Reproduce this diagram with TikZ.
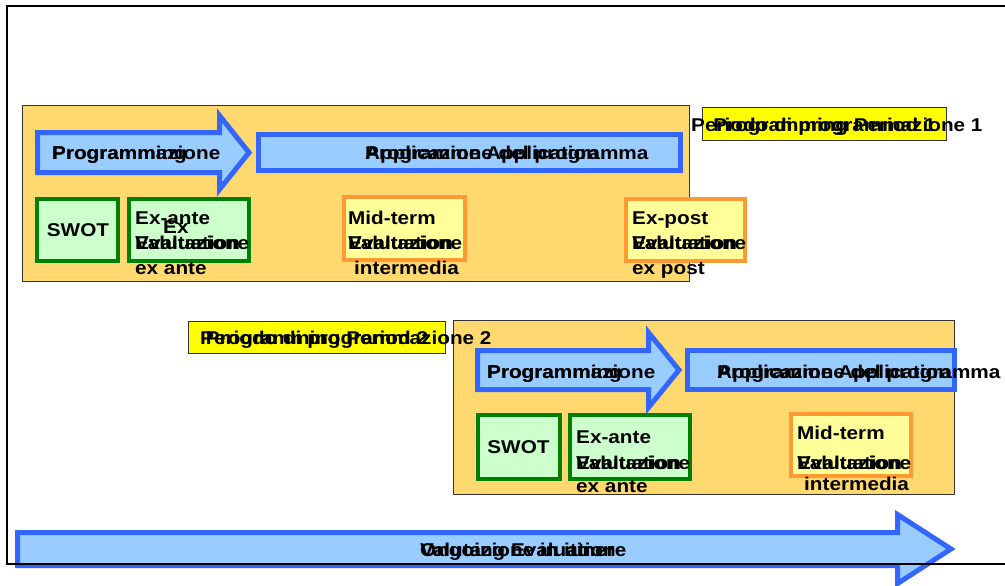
\documentclass[tikz,border=0pt]{standalone}
\usepackage{fontspec}
\setmainfont{Liberation Sans}[FakeStretch=1.12]
\definecolor{panelfill}{HTML}{FFD970}
\definecolor{blueedge}{HTML}{3366FF}
\definecolor{bluefill}{HTML}{99CCFF}
\definecolor{greenedge}{HTML}{008000}
\definecolor{greenfill}{HTML}{CCFFCC}
\definecolor{orangeedge}{HTML}{FF9933}
\definecolor{orangefill}{HTML}{FFFF99}
\definecolor{labelyellow}{HTML}{FFFF00}
\definecolor{panelline}{HTML}{333333}
\tikzset{
  lab/.style={inner sep=0pt, font=\bfseries\fontsize{18.5}{22}\selectfont, anchor=base west, text=black},
  labc/.style={lab, anchor=center},
  panel/.style={draw=panelline, line width=1pt, fill=panelfill, inner sep=0pt},
  perbox/.style={draw=panelline, line width=1pt, fill=labelyellow, inner sep=0pt},
  greenbox/.style={draw=greenedge, line width=4pt, fill=greenfill, inner sep=0pt},
  orangebox/.style={draw=orangeedge, line width=4pt, fill=orangefill, inner sep=0pt},
  bluebox/.style={draw=blueedge, line width=5pt, fill=bluefill, inner sep=0pt},
  bluearrow/.style={draw=blueedge, line width=5pt, fill=bluefill, line join=miter},
}
\begin{document}
\begin{tikzpicture}[x=1pt,y=-1pt]
\useasboundingbox (0,0) rectangle (1005,586);
% bottom ongoing arrow
\draw[bluearrow] (17.5,532.5) -- (897.5,532.5) -- (897.5,514.5) -- (951,549) -- (897.5,583.5) -- (897.5,565.5) -- (17.5,565.5) -- cycle;
% outer frame
\draw[line width=2pt, black] (1010,6) -- (7,6) -- (7,564) -- (1010,564);
% panel 1
\node[panel, minimum width=667pt, minimum height=175pt] (panel1) at (355.5,193.5) {};
\node[perbox, minimum width=244pt, minimum height=33pt] (per1box) at (824.5,124) {};
\draw[bluearrow] (37.5,132.5) -- (219.5,132.5) -- (219.5,115.5) -- (249,152.5) -- (219.5,189.5) -- (219.5,172.5) -- (37.5,172.5) -- cycle;
\node[bluebox, minimum width=422pt, minimum height=36pt] (app1box) at (469.5,152.5) {};
\node[greenbox, minimum width=81pt, minimum height=62pt] (swot1box) at (77.5,230) {};
\node[greenbox, minimum width=120pt, minimum height=62pt] (exa1box) at (189,230) {};
\node[orangebox, minimum width=121pt, minimum height=63pt] (mid1box) at (404.5,228.5) {};
\node[orangebox, minimum width=119pt, minimum height=62pt] (post1box) at (685.5,230) {};
% panel 2
\node[perbox, minimum width=257pt, minimum height=32pt] (per2box) at (317,337.5) {};
\node[panel, minimum width=501pt, minimum height=174pt] (panel2) at (703.5,407) {};
\draw[bluearrow] (477.5,350.5) -- (648.5,350.5) -- (648.5,332.5) -- (679,370) -- (648.5,407.5) -- (648.5,389.5) -- (477.5,389.5) -- cycle;
\node[bluebox, minimum width=267pt, minimum height=39pt] (app2box) at (821,370) {};
\node[greenbox, minimum width=82pt, minimum height=64pt] (swot2box) at (518.5,447) {};
\node[greenbox, minimum width=119.5pt, minimum height=64pt] (exa2box) at (630,447) {};
\node[orangebox, minimum width=120pt, minimum height=62pt] (mid2box) at (851,445) {};
% texts panel 1
\node[lab] (prog1e) at (52,159.5) {Programming};
\node[lab] (prog1i) at (52,159.5) {Programmazione};
\node[lab] (app1e) at (365,159.5) {Programme Application};
\node[lab] (app1i) at (365,159.5) {Applicazione del programma};
\node[labc] (swot1) at (78,230) {SWOT};
\node[lab] (exa1e1) at (135,224.5) {Ex-ante};
\node[lab] (exa1x) at (163,233.5) {Ex};
\node[lab] (exa1e2) at (135,249.5) {Evaluation};
\node[lab] (exa1i1) at (135,249.5) {Valutazione};
\node[lab] (exa1i2) at (135,274.5) {ex ante};
\node[lab] (mid1e1) at (348,224.5) {Mid-term};
\node[lab] (mid1e2) at (348,249.5) {Evaluation};
\node[lab] (mid1i1) at (348,249.5) {Valutazione};
\node[lab] (mid1i2) at (354,274.5) {intermedia};
\node[lab] (post1e1) at (632,224.5) {Ex-post};
\node[lab] (post1e2) at (632,249.5) {Evaluation};
\node[lab] (post1i1) at (632,249.5) {Valutazione};
\node[lab] (post1i2) at (632,274.5) {ex post};
\node[lab, anchor=base] (per1e) at (824.5,131.5) {Programming Period 1};
\node[lab] (per1i) at (691,131.5) {Periodo di programmazione 1};
% texts panel 2
\node[lab, anchor=base] (per2e) at (317,344.5) {Programming Period 2};
\node[lab] (per2i) at (200,344.5) {Periodo di programmazione 2};
\node[lab] (prog2e) at (487,378.5) {Programming};
\node[lab] (prog2i) at (487,378.5) {Programmazione};
\node[lab] (app2e) at (717,378.5) {Programme Application};
\node[lab] (app2i) at (717,378.5) {Applicazione del programma};
\node[labc] (swot2) at (518.5,447) {SWOT};
\node[lab] (exa2e1) at (576,443.5) {Ex-ante};
\node[lab] (exa2e2) at (576,469.5) {Evaluation};
\node[lab] (exa2i1) at (576,469.5) {Valutazione};
\node[lab] (exa2i2) at (576,492.5) {ex ante};
\node[lab] (mid2e1) at (797,439.5) {Mid-term};
\node[lab] (mid2e2) at (797,469.5) {Evaluation};
\node[lab] (mid2i1) at (797,469.5) {Valutazione};
\node[lab] (mid2i2) at (804,490.5) {intermedia};
% ongoing
\node[lab] (onge) at (420,556.5) {Ongoing Evaluation};
\node[lab] (ongi) at (420,556.5) {Valutazione in itinere};
\end{tikzpicture}
\end{document}
